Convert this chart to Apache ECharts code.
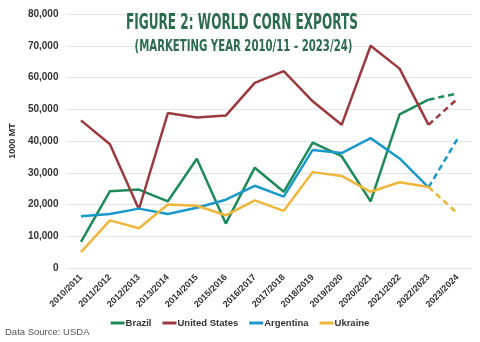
<!DOCTYPE html>
<html><head><meta charset="utf-8">
<script src="https://cdn.jsdelivr.net/npm/echarts@6/dist/echarts.min.js"></script>
<style>html,body{margin:0;padding:0;background:#fff}#c{width:480px;height:342px}</style>
</head><body><div id="c"></div>
<script>
const years = ['2010/2011','2011/2012','2012/2013','2013/2014','2014/2015','2015/2016','2016/2017','2017/2018','2018/2019','2019/2020','2020/2021','2021/2022','2022/2023','2023/2024'];
const brazil = [8200,24200,24700,21000,34400,14000,31600,24000,39500,35200,21000,48400,53000,55000];
const us = [46500,39000,18500,48800,47400,48000,58300,62000,52500,45100,70000,62800,45100,53300];
const argentina = [16300,17000,18700,17000,19000,21500,25900,22500,37200,36200,40900,34500,25400,40700];
const ukraine = [5000,15000,12500,20000,19600,16600,21300,18000,30200,29000,24000,27000,25500,17200];
const names = ['Brazil','United States','Argentina','Ukraine'];
const colors = ['#1d8a5a','#9a3a3f','#1a98c8','#efb63c'];
const all = [brazil, us, argentina, ukraine];
const series = [];
all.forEach((d,i)=>{
  const n = d.length;
  series.push({name:names[i], type:'line', symbol:'none', data:d.map((v,k)=>k<n-1?v:null),
    lineStyle:{width:2.5,color:colors[i]}, itemStyle:{color:colors[i]}, z:3});
  series.push({name:names[i], type:'line', symbol:'none', data:d.map((v,k)=>k>=n-2?v:null),
    lineStyle:{width:2.5,color:colors[i],type:[6,4]}, itemStyle:{color:colors[i]}, z:3});
});
const chart = echarts.init(document.getElementById('c'));
chart.setOption({
  animation:false,
  graphic:[
    {type:'text', x:242, y:13, scaleX:0.59, z:10,
     style:{text:'FIGURE 2: WORLD CORN EXPORTS', align:'center', verticalAlign:'top',
       fontFamily:'DejaVu Sans, sans-serif', fontWeight:'bold', fontSize:20.5, fill:'#2c6b4e'}},
    {type:'text', x:243.5, y:38.5, scaleX:0.615, z:10,
     style:{text:'(MARKETING YEAR 2010/11 - 2023/24)', align:'center', verticalAlign:'top',
       fontFamily:'DejaVu Sans, sans-serif', fontWeight:'bold', fontSize:16.5, fill:'#2c6b4e'}}
  ],
  title:[
    {text:'Data Source: USDA', left:0, top:322, textStyle:{fontFamily:'Liberation Sans, Arial, sans-serif',fontWeight:'normal',fontSize:9.5,color:'#555'}}
  ],
  legend:{data:names, bottom:9, left:'center', icon:'rect', itemWidth:14, itemHeight:3, itemGap:11,
    textStyle:{fontFamily:'Liberation Sans, Arial, sans-serif',fontWeight:'bold',fontSize:9.5,color:'#333',padding:[0,0,0,-4]}},
  grid:{left:60, right:8, top:14, bottom:74},
  xAxis:{type:'category', data:years, boundaryGap:true,
    axisLine:{show:false}, axisTick:{show:false},
    axisLabel:{rotate:45, interval:0, margin:8, fontFamily:'Liberation Sans, Arial, sans-serif',fontWeight:'bold',fontSize:9,color:'#333'}},
  yAxis:{type:'value', min:0, max:80000, interval:10000,
    name:'1000 MT', nameLocation:'middle', nameGap:37, nameRotate:90,
    nameTextStyle:{fontFamily:'Liberation Sans, Arial, sans-serif',fontWeight:'bold',fontSize:9,color:'#333'},
    axisLabel:{fontFamily:'Liberation Sans, Arial, sans-serif',fontWeight:'bold',fontSize:10,color:'#333',
      formatter:v=>v.toLocaleString('en-US')},
    splitLine:{lineStyle:{color:'#e4e4e4',width:1}}},
  series:series
});
</script></body></html>
